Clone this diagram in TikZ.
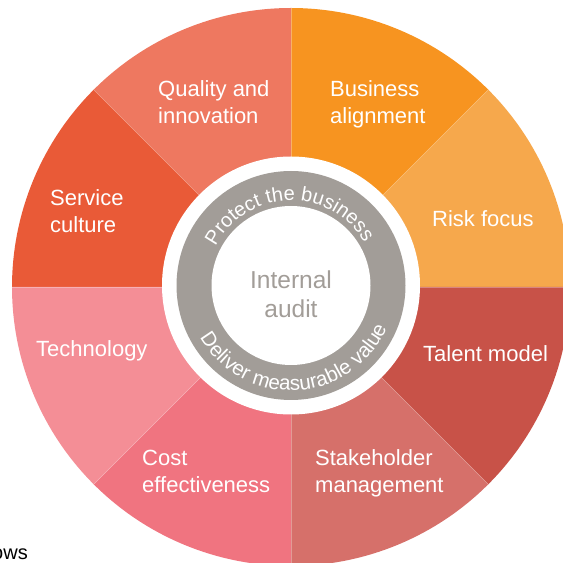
\documentclass[tikz,border=0pt]{standalone}
\usepackage{fontspec}
\setmainfont{Liberation Sans}
\usetikzlibrary{decorations.text,calc}
\definecolor{cRisk}{RGB}{246,168,76}
\definecolor{cBiz}{RGB}{247,148,32}
\definecolor{cQual}{RGB}{238,120,96}
\definecolor{cServ}{RGB}{233,90,55}
\definecolor{cTech}{RGB}{244,142,150}
\definecolor{cCost}{RGB}{240,116,128}
\definecolor{cStake}{RGB}{214,112,106}
\definecolor{cTalent}{RGB}{200,82,72}
\definecolor{ringgray}{RGB}{162,157,152}
\tikzset{
  lab/.style={font=\fontsize{22}{26}\selectfont, text=white, inner sep=0pt, anchor=base west},
  centerlab/.style={font=\fontsize{24.5}{28}\selectfont, text=ringgray, inner sep=0pt, anchor=base},
}
\begin{document}
\begin{tikzpicture}[x=1pt,y=1pt]
\useasboundingbox (0,0) rectangle (563,563);
\clip (0,0) rectangle (563,563);
\coordinate (c) at (291,276);
\coordinate (rc) at (291,277.5);
\foreach \a/\col in {0/cRisk,45/cBiz,90/cQual,135/cServ,180/cTech,225/cCost,270/cStake,315/cTalent}{
  \fill[\col] (c) -- ++(\a:279) arc[start angle=\a, end angle=\a+45, radius=279] -- cycle;
}
\foreach \a in {0,45,...,315}{
  \draw[white, opacity=0.3, line width=0.6pt] (c) -- ++(\a:279);
}
\fill[white] (rc) circle[radius=129];
\fill[ringgray] (rc) circle[radius=114.5];
\fill[white] (rc) circle[radius=79.5];
% ring texts
\path[decorate, decoration={text along path, text align=center,
  text={|\color{white}\fontsize{20}{20}\selectfont|Protect the business}}]
  ($(rc)+(181.5:85)$) arc[start angle=181.5, end angle=1.5, radius=85];
\path[decorate, decoration={text along path, text align=center,
  text={|\color{white}\fontsize{20.5}{20.5}\selectfont|Deliver measurable value}}]
  ($(rc)+(183:105)$) arc[start angle=183, end angle=363, radius=105];
% centre
\node[centerlab] (int1) at (291,274) {Internal};
\node[centerlab] (int2) at (291,245) {audit};
% labels
\node[lab] (q1) at (158,466) {Quality and};
\node[lab] (q2) at (158,439) {innovation};
\node[lab] (b1) at (330,466) {Business};
\node[lab] (b2) at (330,439) {alignment};
\node[lab] (s1) at (50,357) {Service};
\node[lab] (s2) at (50,330) {culture};
\node[lab] (r1) at (432,336) {Risk focus};
\node[lab] (t1) at (36,206) {Technology};
\node[lab] (tm) at (423,201) {Talent model};
\node[lab] (c1) at (142,97) {Cost};
\node[lab] (c2) at (142,70) {effectiveness};
\node[lab] (st1) at (315,97) {Stakeholder};
\node[lab] (st2) at (315,70) {management};
\node[font=\fontsize{20}{22}\selectfont, text=black, inner sep=0pt, anchor=base east] (ows) at (28,3) {ows};
\end{tikzpicture}
\end{document}
